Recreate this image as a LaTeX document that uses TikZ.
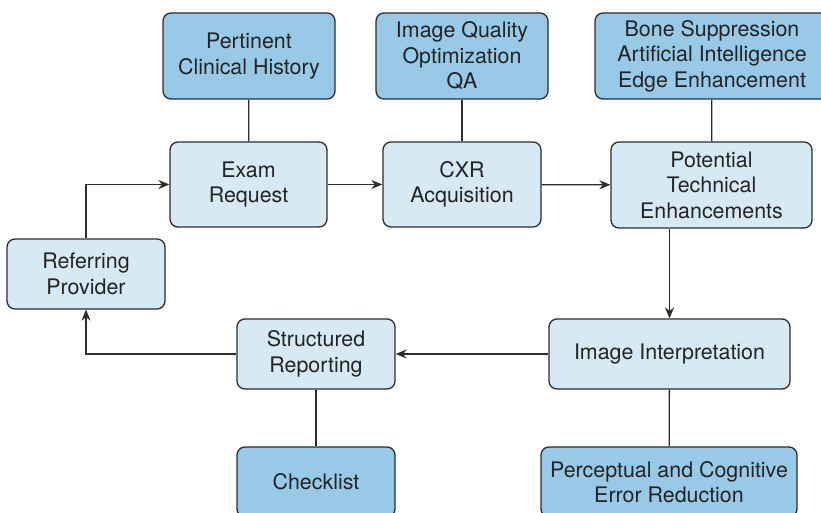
\documentclass[tikz,border=0pt]{standalone}
\usepackage{fontspec}
\setmainfont{TeX Gyre Heros}
\usetikzlibrary{arrows.meta}
\definecolor{lightbox}{RGB}{214,233,245}
\definecolor{darkbox}{RGB}{152,202,232}
\definecolor{edgegray}{RGB}{45,45,45}
\definecolor{textgray}{RGB}{35,35,35}
\tikzset{
  box/.style={draw=edgegray, line width=1.3pt, rounded corners=8pt, align=center,
    inner sep=0pt, text=textgray, font=\fontsize{21.4}{25.5}\selectfont},
  lbox/.style={box, fill=lightbox},
  dbox/.style={box, fill=darkbox},
  conn/.style={draw=edgegray, line width=1.3pt},
  arr/.style={conn, -{Stealth[length=11pt,width=9pt]}}
}
\begin{document}
\begin{tikzpicture}[x=1pt,y=-1pt]
\useasboundingbox (0,0) rectangle (821,513);
\clip (0,0) rectangle (821,513);
\fill[white] (0,0) rectangle (821,513);
\node[dbox, minimum width=172pt, minimum height=86pt] (hist) at (249,56) {Pertinent\\Clinical History};
\node[lbox, minimum width=157pt, minimum height=85pt] (exam) at (248.5,184.5) {Exam\\Request};
\node[dbox, minimum width=172pt, minimum height=86pt] (iq) at (462,56) {Image Quality\\Optimization\\QA};
\node[lbox, minimum width=158pt, minimum height=85pt] (cxr) at (462,184.5) {CXR\\Acquisition};
\node[dbox, minimum width=234pt, minimum height=86pt] (bone) at (712,56) {Bone Suppression\\Artificial Intelligence\\Edge Enhancement};
\node[lbox, minimum width=201pt, minimum height=86pt] (pot) at (711.5,185) {Potential\\Technical\\Enhancements};
\node[lbox, minimum width=158pt, minimum height=70pt] (ref) at (86,274) {Referring\\Provider};
\node[lbox, minimum width=158pt, minimum height=70pt] (sr) at (316,354) {Structured\\Reporting};
\node[lbox, minimum width=241pt, minimum height=70pt] (ii) at (669.5,354) {Image Interpretation};
\node[dbox, minimum width=158pt, minimum height=70pt] (check) at (316,482) {Checklist};
\node[dbox, minimum width=256pt, minimum height=70pt] (perc) at (669,482) {Perceptual and Cognitive\\Error Reduction};

\draw[conn] (hist) -- (exam);
\draw[conn] (iq) -- (cxr);
\draw[conn] (bone) -- (pot);
\draw[arr] (exam) -- (cxr);
\draw[arr] (cxr) -- (pot);
\draw[arr] (pot.south -| ii.north) -- (ii.north);
\draw[arr] (ii) -- (sr);
\draw[arr] (sr.west) -| (ref.south);
\draw[arr] (ref.north) |- (exam.west);
\draw[conn] (sr) -- (check);
\draw[conn] (ii) -- (perc);
\end{tikzpicture}
\end{document}
